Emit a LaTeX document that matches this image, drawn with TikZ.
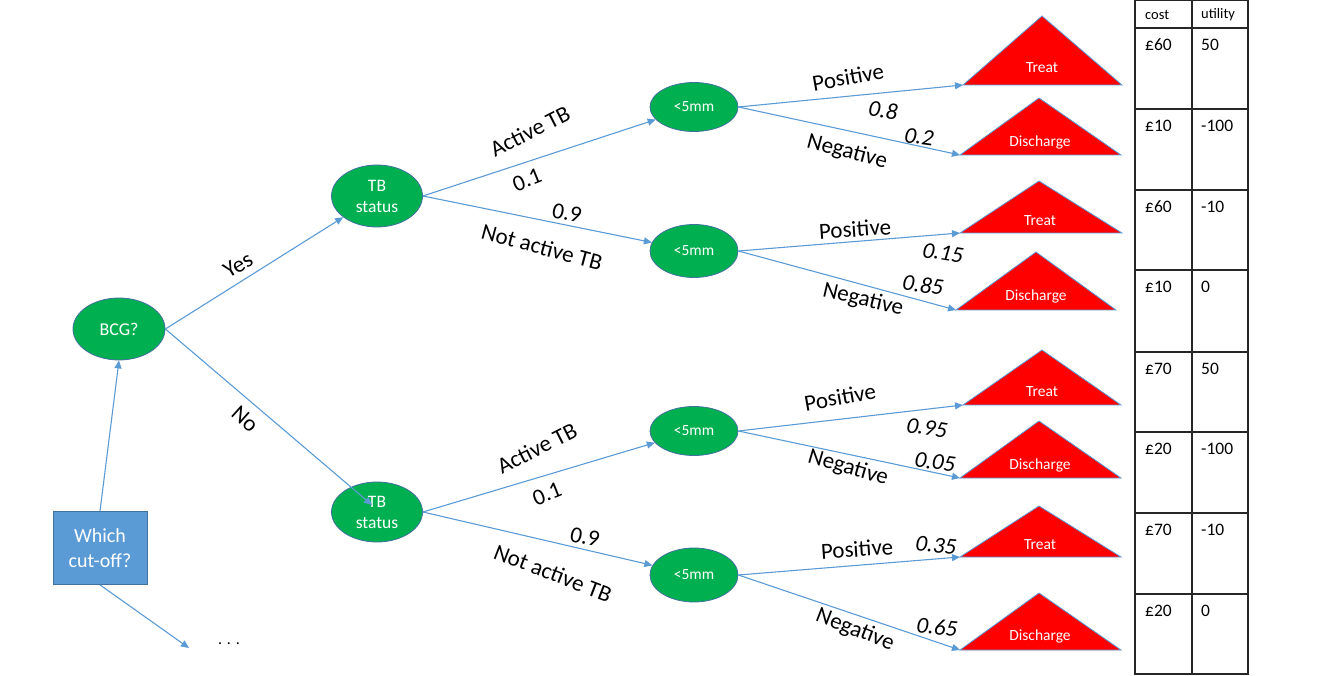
\documentclass[tikz,border=0pt]{standalone}
\usepackage{fontspec}
\setmainfont{Carlito}
\usetikzlibrary{shapes.geometric,arrows.meta}
\definecolor{nodegreen}{HTML}{00B050}
\definecolor{edgeblue}{HTML}{5B9BD5}
\definecolor{borderblue}{HTML}{41719C}
\definecolor{leafred}{HTML}{FF0000}
\definecolor{tblline}{HTML}{262626}
\begin{document}
\begin{tikzpicture}[x=1pt,y=-1pt,
  chance/.style={ellipse, fill=nodegreen, draw=borderblue, line width=0.8pt, text=white, inner sep=0pt, align=center},
  decision/.style={rectangle, fill=edgeblue, draw=borderblue, line width=0.8pt, text=white, inner sep=0pt, align=center,
    minimum width=94pt, minimum height=73pt, font=\fontsize{20}{25}\selectfont},
  conn/.style={draw=edgeblue, line width=1.1pt, -{Triangle[length=8pt,width=7pt]}},
  leaf/.style={fill=leafred, draw=edgeblue, line width=0.8pt},
  leaftext/.style={text=white, font=\fontsize{15.5}{17}\selectfont, inner sep=0pt},
  lab/.style={font=\fontsize{23}{26}\selectfont, inner sep=0pt},
  prob/.style={font=\fontsize{23}{26}\selectfont\itshape, inner sep=0pt},
  tbl/.style={draw=tblline, line width=1.2pt},
  hdr/.style={font=\fontsize{14.5}{16}\selectfont, anchor=west, inner sep=0pt},
  cell/.style={font=\fontsize{17.5}{20}\selectfont, anchor=west, inner sep=0pt}]
\useasboundingbox (0,0) rectangle (1318,676);

% decision and chance nodes
\node[decision] (which) at (100,548) {Which\\cut-off?};
\node[chance, minimum width=92pt, minimum height=62pt, font=\fontsize{18}{20}\selectfont] (bcg) at (119,329) {BCG?};
\node[chance, minimum width=91pt, minimum height=62pt, font=\fontsize{17.5}{21}\selectfont] (tb1) at (377,196) {TB\\status};
\node[chance, minimum width=91pt, minimum height=60pt, font=\fontsize{17.5}{21}\selectfont] (tb2) at (377,512) {TB\\status};
\node[chance, minimum width=88pt, minimum height=49pt, font=\fontsize{15.5}{17}\selectfont] (m1) at (694,107) {<5mm};
\node[chance, minimum width=88pt, minimum height=53pt, font=\fontsize{15.5}{17}\selectfont] (m2) at (694,251) {<5mm};
\node[chance, minimum width=88pt, minimum height=49pt, font=\fontsize{15.5}{17}\selectfont] (m3) at (694,431) {<5mm};
\node[chance, minimum width=88pt, minimum height=54pt, font=\fontsize{15.5}{17}\selectfont] (m4) at (694,575) {<5mm};
\node[font=\fontsize{16}{18}\selectfont, inner sep=0pt] (dots) at (229,644) {. . .};

% terminal triangles
\coordinate (t1a) at (1042,16);  \coordinate (t1l) at (963,85);  \coordinate (t1r) at (1122,85);
\coordinate (t2a) at (1039,98);  \coordinate (t2l) at (960,155); \coordinate (t2r) at (1121,155);
\coordinate (t3a) at (1039,181); \coordinate (t3l) at (960,233); \coordinate (t3r) at (1122,233);
\coordinate (t4a) at (1036,252); \coordinate (t4l) at (956,310); \coordinate (t4r) at (1116,310);
\coordinate (t5a) at (1042,350); \coordinate (t5l) at (963,405); \coordinate (t5r) at (1121,405);
\coordinate (t6a) at (1039,421); \coordinate (t6l) at (960,478); \coordinate (t6r) at (1121,478);
\coordinate (t7a) at (1039,506); \coordinate (t7l) at (960,557); \coordinate (t7r) at (1121,557);
\coordinate (t8a) at (1039,593); \coordinate (t8l) at (960,650); \coordinate (t8r) at (1121,650);
\foreach \i in {1,...,8} {\draw[leaf] (t\i a) -- (t\i l) -- (t\i r) -- cycle;}
\node[leaftext] (l1) at (1042,68) {Treat};
\node[leaftext] (l2) at (1040,142) {Discharge};
\node[leaftext] (l3) at (1040,221) {Treat};
\node[leaftext] (l4) at (1036,296) {Discharge};
\node[leaftext] (l5) at (1042,392) {Treat};
\node[leaftext] (l6) at (1040,465) {Discharge};
\node[leaftext] (l7) at (1040,545) {Treat};
\node[leaftext] (l8) at (1040,636) {Discharge};

% connectors
\coordinate (dotsend) at (189,648);
\coordinate (noend) at (372,505);
\draw[conn] (which.north) -- (bcg.south);
\draw[conn] (which.south) -- (dotsend);
\draw[conn] (bcg.east) -- (tb1);
\draw[conn] (bcg.east) -- (noend);
\draw[conn] (tb1.east) -- (m1);
\draw[conn] (tb1.east) -- (m2);
\draw[conn] (tb2.east) -- (m3);
\draw[conn] (tb2.east) -- (m4);
\draw[conn] (m1.east) -- (t1l);
\draw[conn] (m1.east) -- (t2l);
\draw[conn] (m2.east) -- (t3l);
\draw[conn] (m2.east) -- (t4l);
\draw[conn] (m3.east) -- (t5l);
\draw[conn] (m3.east) -- (t6l);
\draw[conn] (m4.east) -- (t7l);
\draw[conn] (m4.east) -- (t8l);

% branch labels
\node[lab, rotate=31] (yes) at (238,265) {Yes};
\node[lab, rotate=-42] (no) at (245,419) {No};
\node[lab, rotate=27] (a1) at (530,131) {Active TB};
\node[lab, rotate=22] (p01a) at (527,180) {0.1};
\node[lab, rotate=-12] (p09a) at (567,213) {0.9};
\node[lab, rotate=-15] (na1) at (542,247) {Not active TB};
\node[lab, rotate=27] (a2) at (537,448) {Active TB};
\node[lab, rotate=22] (p01b) at (547,494) {0.1};
\node[lab, rotate=-12] (p09b) at (585,537) {0.9};
\node[lab, rotate=-21] (na2) at (553,573) {Not active TB};

\node[lab, rotate=10] (pos1) at (848,77) {Positive};
\node[prob, rotate=-8] (q1) at (883,110) {0.8};
\node[prob, rotate=-8] (q2) at (919,137) {0.2};
\node[lab, rotate=-15] (neg1) at (847,152) {Negative};
\node[lab, rotate=4] (pos2) at (855,229) {Positive};
\node[prob, rotate=-9] (q3) at (943,253) {0.15};
\node[prob, rotate=-8] (q4) at (923,285) {0.85};
\node[lab, rotate=-13] (neg2) at (863,300) {Negative};
\node[lab, rotate=10] (pos3) at (840,397) {Positive};
\node[prob, rotate=-9] (q5) at (927,428) {0.95};
\node[prob, rotate=-8] (q6) at (935,462) {0.05};
\node[lab, rotate=-16] (neg3) at (848,468) {Negative};
\node[lab, rotate=4] (pos4) at (857,549) {Positive};
\node[prob, rotate=-6] (q7) at (936,545) {0.35};
\node[prob, rotate=-6] (q8) at (937,627) {0.65};
\node[lab, rotate=-21] (neg4) at (855,630) {Negative};

% table
\draw[tbl] (1135,0.8) rectangle (1248,674);
\draw[tbl] (1192,0.8) -- (1192,674);
\foreach \y in {28,109,190,270,352,432,513,594} {\draw[tbl] (1135,\y) -- (1248,\y);}
\node[hdr] (hc) at (1145,15) {cost};
\node[hdr] (hu) at (1201,15) {utility};
\node[cell] (c1) at (1145,45) {£60};  \node[cell] (u1) at (1201,45) {50};
\node[cell] (c2) at (1145,126) {£10}; \node[cell] (u2) at (1201,126) {-100};
\node[cell] (c3) at (1145,207) {£60}; \node[cell] (u3) at (1201,207) {-10};
\node[cell] (c4) at (1145,287) {£10}; \node[cell] (u4) at (1201,287) {0};
\node[cell] (c5) at (1145,369) {£70}; \node[cell] (u5) at (1201,369) {50};
\node[cell] (c6) at (1145,449) {£20}; \node[cell] (u6) at (1201,449) {-100};
\node[cell] (c7) at (1145,530) {£70}; \node[cell] (u7) at (1201,530) {-10};
\node[cell] (c8) at (1145,611) {£20}; \node[cell] (u8) at (1201,611) {0};
\end{tikzpicture}
\end{document}
